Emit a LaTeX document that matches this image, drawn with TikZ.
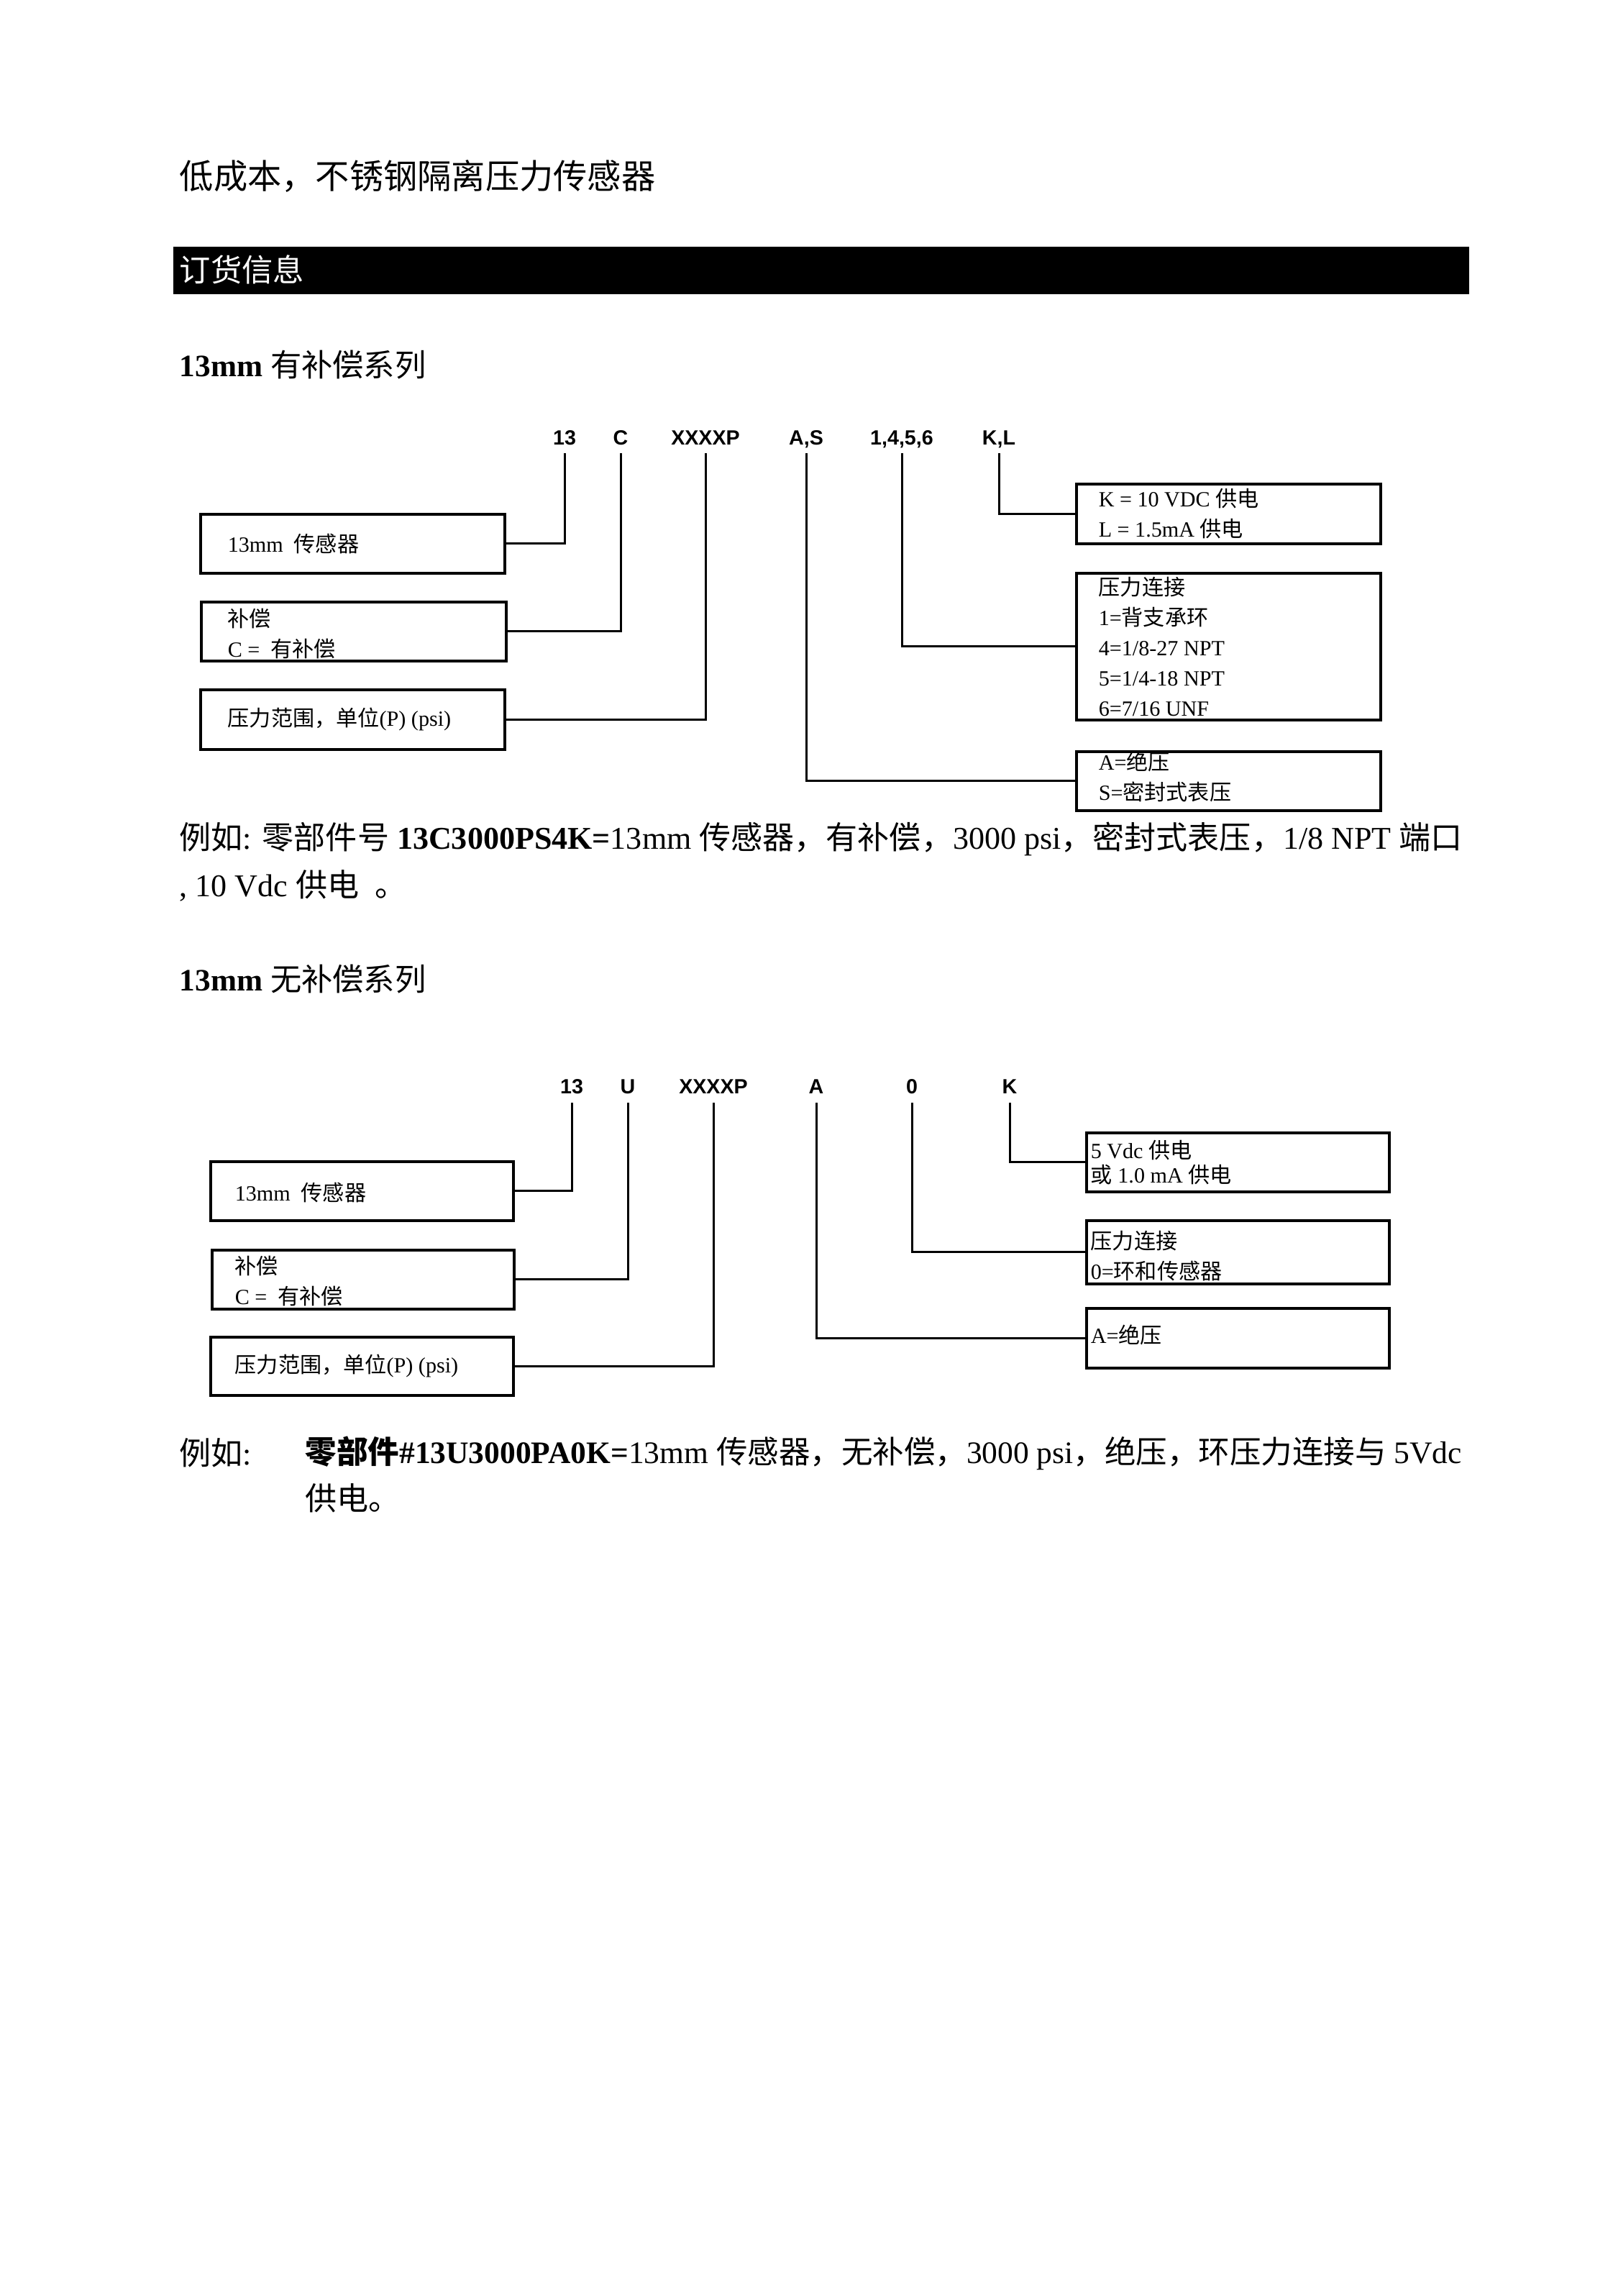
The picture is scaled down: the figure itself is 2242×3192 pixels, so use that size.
\documentclass[tikz,border=0pt]{standalone}
\usepackage{fontspec}
\setmainfont{Liberation Serif}
\newfontfamily\zhfont{Noto Sans CJK SC}
\newfontfamily\labfont{Liberation Sans}
\newcommand\zh[1]{{\zhfont #1}}
\newcommand\pxu{0.26552pt}
\begin{document}
\begin{tikzpicture}[x=\pxu,y=-\pxu,
  lab/.style={font=\labfont\bfseries\fontsize{7.6pt}{9pt}\selectfont, inner sep=0pt, anchor=base},
  framebox/.style={draw, line width=1pt, anchor=north west, inner sep=0pt},
  btxt/.style={anchor=west, inner sep=0pt, align=left, font=\fontsize{8pt}{11.2pt}\selectfont},
  conn/.style={line width=0.8pt},
  head/.style={anchor=west, inner sep=0pt},
  para/.style={anchor=west, inner sep=0pt, font=\fontsize{11.7pt}{14pt}\selectfont}]
\fill[white] (0,0) rectangle (2242,3192);
\useasboundingbox (0,0) rectangle (2242,3192);

% title and section headings
\node[head, font=\zhfont\fontsize{12.55pt}{15pt}\selectfont] (title) at (249,245) {低成本，不锈钢隔离压力传感器};
\node[fill=black, anchor=north west, inner sep=0pt, minimum width=1802*\pxu, minimum height=66*\pxu] (bar) at (240,342) {};
\node[head, text=white, font=\zhfont\fontsize{11.5pt}{14pt}\selectfont] (bartxt) at (249,375) {订货信息};
\node[head, font=\fontsize{11.5pt}{14pt}\selectfont] (sec1) at (249,507) {\textbf{13mm} \zh{有补偿系列}};
\node[head, font=\fontsize{11.5pt}{14pt}\selectfont] (sec2) at (249,1361) {\textbf{13mm} \zh{无补偿系列}};

% ---------------- diagram 1 ----------------
\node[lab] (a13) at (785,618) {13};
\node[lab] (aC) at (863,618) {C};
\node[lab] (aX) at (981,618) {XXXXP};
\node[lab] (aAS) at (1121,618) {A,S};
\node[lab] (aN) at (1254,618) {1,4,5,6};
\node[lab] (aKL) at (1389,618) {K,L};
\coordinate (c13) at (785,630);
\coordinate (cC) at (863,630);
\coordinate (cX) at (981,630);
\coordinate (cAS) at (1121,630);
\coordinate (cN) at (1254,630);
\coordinate (cKL) at (1389,630);

\node[framebox, minimum width=423*\pxu, minimum height=82*\pxu] (b11) at (277,713) {};
\node[framebox, minimum width=424*\pxu, minimum height=82*\pxu] (b12) at (278,835) {};
\node[framebox, minimum width=423*\pxu, minimum height=83*\pxu] (b13) at (277,957) {};
\node[framebox, minimum width=423*\pxu, minimum height=83*\pxu] (r11) at (1495,671) {};
\node[framebox, minimum width=423*\pxu, minimum height=204*\pxu] (r12) at (1495,795) {};
\node[framebox, minimum width=423*\pxu, minimum height=82*\pxu] (r13) at (1495,1043) {};

\node[btxt] (tb11) at ([xshift=39*\pxu]b11.west) {13mm\ \ \zh{传感器}};
\node[btxt] (tb12) at ([xshift=38*\pxu,yshift=-3*\pxu]b12.west) {\zh{补偿}\\C =\ \ \zh{有补偿}};
\node[btxt] (tb13) at ([xshift=39*\pxu]b13.west) {\zh{压力范围，单位}(P) (psi)};
\node[btxt] (tr11) at ([xshift=32*\pxu]r11.west) {K = 10 VDC \zh{供电}\\L = 1.5mA \zh{供电}};
\node[btxt] (tr12) at ([xshift=32*\pxu]r12.west) {\zh{压力连接}\\1=\zh{背支承环}\\4=1/8-27 NPT\\5=1/4-18 NPT\\6=7/16 UNF};
\node[btxt] (tr13) at ([xshift=32*\pxu,yshift=6*\pxu]r13.west) {A=\zh{绝压}\\S=\zh{密封式表压}};

\draw[conn] (b11.east) -| (c13);
\draw[conn] (b12.east) -| (cC);
\draw[conn] (b13.east) -| (cX);
\draw[conn] (r13.west) -| (cAS);
\draw[conn] (r12.west) -| (cN);
\draw[conn] (r11.west) -| (cKL);

% example 1
\node[para] (ex1a) at (249,1166) {\zh{例如}: \zh{零部件号} \textbf{13C3000PS4K=}13mm \zh{传感器，有补偿，}3000 psi\zh{，密封式表压，}1/8 NPT \zh{端口}};
\node[para] (ex1b) at (249,1231) {, 10 Vdc \zh{供电}\ \ \zh{。}};

% ---------------- diagram 2 ----------------
\node[lab] (e13) at (795,1520) {13};
\node[lab] (eU) at (873,1520) {U};
\node[lab] (eX) at (992,1520) {XXXXP};
\node[lab] (eA) at (1135,1520) {A};
\node[lab] (e0) at (1268,1520) {0};
\node[lab] (eK) at (1404,1520) {K};
\coordinate (d13) at (795,1533);
\coordinate (dU) at (873,1533);
\coordinate (dX) at (992,1533);
\coordinate (dA) at (1135,1533);
\coordinate (d0) at (1268,1533);
\coordinate (dK) at (1404,1533);

\node[framebox, minimum width=421*\pxu, minimum height=82*\pxu] (b21) at (291,1613) {};
\node[framebox, minimum width=420*\pxu, minimum height=82*\pxu] (b22) at (293,1736) {};
\node[framebox, minimum width=421*\pxu, minimum height=81*\pxu] (b23) at (291,1857) {};
\node[framebox, minimum width=421*\pxu, minimum height=82*\pxu] (r21) at (1509,1573) {};
\node[framebox, minimum width=421*\pxu, minimum height=88*\pxu] (r22) at (1509,1695) {};
\node[framebox, minimum width=421*\pxu, minimum height=83*\pxu] (r23) at (1509,1817) {};

\node[btxt] (tb21) at ([xshift=35*\pxu,yshift=-2*\pxu]b21.west) {13mm\ \ \zh{传感器}};
\node[btxt] (tb22) at ([xshift=33*\pxu,yshift=-2*\pxu]b22.west) {\zh{补偿}\\C =\ \ \zh{有补偿}};
\node[btxt] (tb23) at ([xshift=35*\pxu]b23.west) {\zh{压力范围，单位}(P) (psi)};
\node[btxt, font=\fontsize{8pt}{9pt}\selectfont] (tr21) at ([xshift=7*\pxu]r21.west) {5 Vdc \zh{供电}\\\zh{或} 1.0 mA \zh{供电}};
\node[btxt] (tr22) at ([xshift=7*\pxu,yshift=-5*\pxu]r22.west) {\zh{压力连接}\\0=\zh{环和传感器}};
\node[btxt] (tr23) at ([xshift=7*\pxu,yshift=5*\pxu]r23.west) {A=\zh{绝压}};

\draw[conn] (b21.east) -| (d13);
\draw[conn] (b22.east) -| (dU);
\draw[conn] (b23.east) -| (dX);
\draw[conn] (r23.west) -| (dA);
\draw[conn] (r22.west) -| (d0);
\draw[conn] (r21.west) -| (dK);

% example 2
\node[para] (ex2a) at (249,2020) {\zh{例如}:};
\node[para, font=\fontsize{11.55pt}{14pt}\selectfont] (ex2b) at (424,2020) {\textbf{\zh{零部件}\#13U3000PA0K=}13mm \zh{传感器，无补偿，}3000 psi\zh{，绝压，环压力连接与} 5Vdc};
\node[para] (ex2c) at (424,2083) {\zh{供电。}};
\end{tikzpicture}
\end{document}
